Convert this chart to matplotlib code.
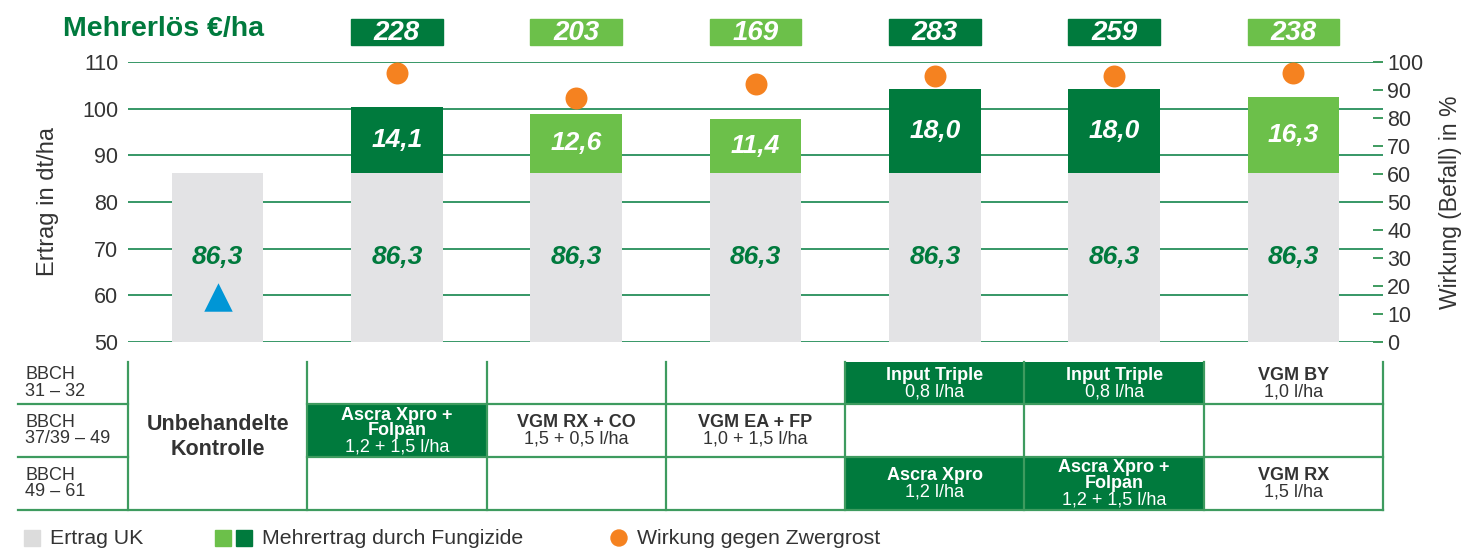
import matplotlib
matplotlib.use("Agg")
import matplotlib.pyplot as plt
from matplotlib.patches import Rectangle, Ellipse
import numpy as np

# ---------------- data ----------------
treatments = ["UK", "T2", "T3", "T4", "T5", "T6", "T7"]
ertrag_uk = [86.3, 86.3, 86.3, 86.3, 86.3, 86.3, 86.3]
mehrertrag = [0, 14.1, 12.6, 11.4, 18.0, 18.0, 16.3]
mehrertrag_labels = ["", "14,1", "12,6", "11,4", "18,0", "18,0", "16,3"]
uk_labels = ["86,3"] * 7
mehrerloes = [None, 228, 203, 169, 283, 259, 238]
dark_flags = [False, True, False, False, True, True, False]
wirkung = [None, 96, 87, 92, 95, 95, 96]
kontrolle_marker = 16

bbch_rows = ["BBCH\n31 – 32", "BBCH\n37/39 – 49", "BBCH\n49 – 61"]
# table cells: (col, row, bold, regular, dark)
table_cells = [
    (1, 1, "Ascra Xpro +\nFolpan", "1,2 + 1,5 l/ha", True),
    (2, 1, "VGM RX + CO", "1,5 + 0,5 l/ha", False),
    (3, 1, "VGM EA + FP", "1,0 + 1,5 l/ha", False),
    (4, 0, "Input Triple", "0,8 l/ha", True),
    (5, 0, "Input Triple", "0,8 l/ha", True),
    (6, 0, "VGM BY", "1,0 l/ha", False),
    (4, 2, "Ascra Xpro", "1,2 l/ha", True),
    (5, 2, "Ascra Xpro +\nFolpan", "1,2 + 1,5 l/ha", True),
    (6, 2, "VGM RX", "1,5 l/ha", False),
]

# ---------------- style ----------------
DARK = "#007A3D"
LIGHT = "#6CC04A"
GRAY = "#E3E3E5"
ORANGE = "#F58220"
BLUE = "#0096D6"
LINE = "#3E9B5F"
TXT = "#333333"
FONT = ["Liberation Sans", "DejaVu Sans"]
plt.rcParams["font.family"] = FONT

W, H = 1465, 549
fig = plt.figure(figsize=(W / 100, H / 100), dpi=100)

def fx(px):
    return px / W

def fy(py):
    return 1 - py / H

ax_l, ax_r = 128, 1383
ax_t, ax_b = 62, 342
ax = fig.add_axes([fx(ax_l), fy(ax_b), fx(ax_r) - fx(ax_l), fy(ax_t) - fy(ax_b)])
ax.set_xlim(-0.5, 6.5)
ax.set_ylim(50, 110)
x = np.arange(len(treatments))
bw = 0.51

colors = [DARK if d else LIGHT for d in dark_flags]
ax.set_axisbelow(True)
for yv in range(50, 111, 10):
    ax.axhline(yv, color=DARK, lw=1.1, zorder=0)
ax.bar(x, ertrag_uk, width=bw, color=GRAY, zorder=2)
ax.bar(x[1:], mehrertrag[1:], bottom=ertrag_uk[1:], width=bw,
       color=colors[1:], zorder=2)

for i in x:
    ax.text(i, 68.3, uk_labels[i], ha="center", va="center", color=DARK,
            fontsize=19, fontweight="bold", fontstyle="italic", zorder=4)
    if mehrertrag[i]:
        ax.text(i, ertrag_uk[i] + mehrertrag[i] * 0.5, mehrertrag_labels[i],
                ha="center", va="center", color="white", fontsize=19,
                fontweight="bold", fontstyle="italic", zorder=4)

for s in ax.spines.values():
    s.set_visible(False)
ax.set_xticks([])
ax.set_yticks(range(50, 111, 10))
ax.tick_params(axis="y", length=0, labelsize=15.5, labelcolor=TXT, pad=7)
ax.set_ylabel("Ertrag in dt/ha", fontsize=17, color=TXT, labelpad=17)

# right axis
ax2 = ax.twinx()
ax2.set_ylim(0, 100)
for s in ax2.spines.values():
    s.set_visible(False)
ax2.set_yticks(range(0, 101, 10))
ax2.tick_params(axis="y", direction="in", length=7, width=1.4, color=LINE,
                labelsize=15.5, labelcolor=TXT, pad=3)
ax2.set_ylabel("Wirkung (Befall) in %", fontsize=16.5, color=TXT, labelpad=11)
wx = [i for i in x if wirkung[i] is not None]
wy = [wirkung[i] for i in wx]
ax2.scatter(wx, wy, s=250, color=ORANGE, zorder=5, linewidths=0)
ax2.scatter([0], [kontrolle_marker], marker="^", s=420, color=BLUE, zorder=5,
            linewidths=0)

# Mehrerlös boxes
tr = ax.get_xaxis_transform()
yb0 = (ax_b - 45) / (ax_b - ax_t)
yb1 = (ax_b - 19) / (ax_b - ax_t)
for i in x:
    if mehrerloes[i] is None:
        continue
    ax.add_patch(Rectangle((i - bw / 2, yb0), bw, yb1 - yb0, transform=tr,
                           color=colors[i], clip_on=False, zorder=3))
    ax.text(i, (yb0 + yb1) / 2 - 0.004, str(mehrerloes[i]), transform=tr,
            ha="center", va="center", color="white", fontsize=20,
            fontweight="bold", fontstyle="italic", clip_on=False)
fig.text(fx(63), fy(29), "Mehrerlös €/ha", color=DARK, fontsize=20.5,
         fontweight="bold", ha="left", va="center")

# ---------------- table ----------------
t_top, t_bot = 362, 510
row_b = [362, 404, 457, 510]
tax = fig.add_axes([fx(ax_l), fy(t_bot), fx(ax_r) - fx(ax_l), fy(t_top) - fy(t_bot)])
tax.set_xlim(-0.5, 6.5)
tax.set_ylim(t_bot, t_top)
tax.axis("off")
lab_x0 = -0.5 - (ax_l - 18) / ((ax_r - ax_l) / 7)

for (c, r, bold, reg, dark) in table_cells:
    if dark:
        tax.add_patch(Rectangle((c - 0.5, row_b[r]), 1, row_b[r + 1] - row_b[r],
                                color=DARK, zorder=1, lw=0))
    tc = "white" if dark else TXT
    nb = bold.count("\n") + 1
    yc = (row_b[r] + row_b[r + 1]) / 2
    lh = 15.5
    ytop = yc - (nb + 1) * lh / 2
    for k, line in enumerate(bold.split("\n")):
        tax.text(c, ytop + (k + 0.5) * lh, line, ha="center", va="center",
                 color=tc, fontsize=13, fontweight="bold", zorder=3)
    tax.text(c, ytop + (nb + 0.5) * lh + 1, reg, ha="center", va="center",
             color=tc, fontsize=13, zorder=3)

tax.text(0, (t_top + t_bot) / 2 + 1, "Unbehandelte\nKontrolle", ha="center",
         va="center", color=TXT, fontsize=15.5, fontweight="bold", linespacing=1.3)
for r, lab in enumerate(bbch_rows):
    tax.text(lab_x0 + 0.04, (row_b[r] + row_b[r + 1]) / 2, lab, ha="left",
             va="center", color=TXT, fontsize=13, linespacing=0.95, clip_on=False)

lw = 1.6
for r in (1, 2):
    tax.plot([lab_x0, -0.5], [row_b[r]] * 2, color=LINE, lw=lw, clip_on=False, zorder=2)
    tax.plot([0.5, 6.5], [row_b[r]] * 2, color=LINE, lw=lw, clip_on=False, zorder=2)
tax.plot([lab_x0, 6.5], [t_bot] * 2, color=LINE, lw=lw, clip_on=False, zorder=2)
for c in range(8):
    tax.plot([c - 0.5] * 2, [t_top, t_bot], color=LINE, lw=lw, clip_on=False, zorder=2)

# ---------------- legend ----------------
ly = 538
def sq(px, color):
    fig.patches.append(Rectangle((fx(px), fy(ly + 8)), fx(16), 16 / H, color=color,
                                 transform=fig.transFigure, figure=fig))
sq(24, "#DCDCDC")
fig.text(fx(50), fy(ly), "Ertrag UK", fontsize=15.3, color=TXT, va="center")
sq(215, LIGHT)
sq(236, DARK)
fig.text(fx(262), fy(ly), "Mehrertrag durch Fungizide", fontsize=15.3, color=TXT,
         va="center")
fig.patches.append(Ellipse((fx(619), fy(ly)), fx(16), 16 / H, color=ORANGE,
                           transform=fig.transFigure, figure=fig))
fig.text(fx(637), fy(ly), "Wirkung gegen Zwergrost", fontsize=15.3, color=TXT,
         va="center")

fig.savefig("out.png", dpi=100, facecolor="white")
